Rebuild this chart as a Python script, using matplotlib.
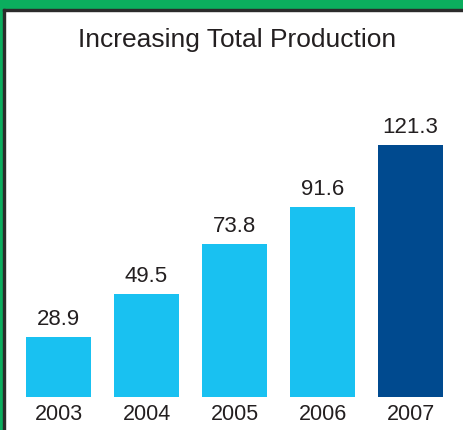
import matplotlib
matplotlib.use("Agg")
import matplotlib.pyplot as plt
from matplotlib.patches import Rectangle

years = ["2003", "2004", "2005", "2006", "2007"]
values = [28.9, 49.5, 73.8, 91.6, 121.3]
value_labels = ["28.9", "49.5", "73.8", "91.6", "121.3"]
title = "Increasing Total Production"

W, H = 463, 430
fig = plt.figure(figsize=(W / 100, H / 100), dpi=100)
fig.patch.set_facecolor("white")

# frame: green band top and left, dark inner line
green = "#0BAE5E"
dark = "#2B2B2B"
fig.patches.append(Rectangle((0, 1 - 9 / H), 1, 9 / H, transform=fig.transFigure, color=green, zorder=0))
fig.patches.append(Rectangle((0, 0), 3 / W, 1, transform=fig.transFigure, color=green, zorder=0))
fig.patches.append(Rectangle((3 / W, 0), 2 / W, 1 - 9 / H, transform=fig.transFigure, color=dark, zorder=0))
fig.patches.append(Rectangle((3 / W, 1 - 11 / H), 1 - 3 / W, 2 / H, transform=fig.transFigure, color=dark, zorder=0))

ax_bottom = 397
ax_top = 11
ax_left = 14.5
ax_w = 440
ax = fig.add_axes([ax_left / W, 1 - ax_bottom / H, ax_w / W, (ax_bottom - ax_top) / H])
ax.set_facecolor("none")
px_per_unit = 252 / 121.3
ax.set_ylim(0, (ax_bottom - ax_top) / px_per_unit)
ax.set_xlim(-0.5, len(years) - 0.5)

colors = ["#19C1F1"] * 4 + ["#004A8F"]
x = range(len(years))
ax.bar(x, values, width=65 / 88, color=colors, linewidth=0)

for xi, v, lab in zip(x, values, value_labels):
    ax.annotate(lab, (xi, v), xytext=(0, 7), textcoords="offset pixels",
                ha="center", va="bottom", fontsize=16, color="#231F20",
                family=["Liberation Sans", "DejaVu Sans"])

ax.set_xticks(list(x))
ax.set_xticklabels(years, fontsize=15.5, color="#231F20",
                   family=["Liberation Sans Narrow", "Liberation Sans", "DejaVu Sans"])
ax.tick_params(axis="x", length=0, pad=5)
ax.set_yticks([])
for s in ax.spines.values():
    s.set_visible(False)

fig.text(237 / W, 1 - 40 / H, title, ha="center", va="center", fontsize=19,
         color="#231F20", family=["Liberation Sans", "DejaVu Sans"])

fig.savefig("out.png", dpi=100, facecolor="white")
